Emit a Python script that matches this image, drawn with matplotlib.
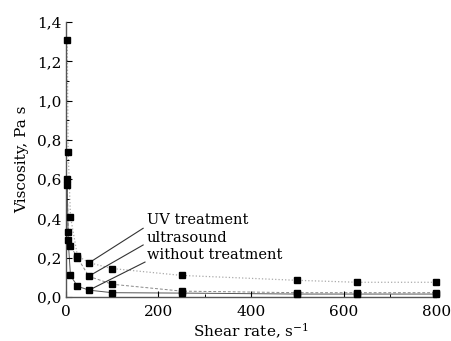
#!/usr/bin/env python3
"""Viscosity vs shear rate for three treatments."""

import matplotlib
matplotlib.use("Agg")
import matplotlib.pyplot as plt
import matplotlib.ticker as ticker

# shear rate, s^-1
shear = [3, 5, 10, 25, 50, 100, 250, 500, 630, 800]

visc_uv = [1.31, 0.74, 0.41, 0.21, 0.175, 0.145, 0.11, 0.085, 0.075, 0.075]
visc_us = [0.60, 0.33, 0.26, 0.20, 0.105, 0.065, 0.03, 0.022, 0.022, 0.022]
visc_none = [0.57, 0.29, 0.11, 0.055, 0.035, 0.022, 0.02, 0.015, 0.015, 0.015]

labels = ["UV treatment", "ultrasound", "without treatment"]
label_y = [0.392, 0.30, 0.214]
leader_start = [(52, 0.177), (51, 0.108), (51, 0.036)]
leader_end = [(167, 0.35), (167, 0.265), (171, 0.178)]

plt.rcParams["font.family"] = ["DejaVu Serif"]
plt.rcParams["mathtext.fontset"] = "dejavuserif"

fig = plt.figure(figsize=(4.51, 3.41), dpi=100)
ax = fig.add_axes([0.146, 0.129, 0.821, 0.806])

ax.plot(shear, visc_uv, color="#aaaaaa", linestyle=":", linewidth=0.9, zorder=1)
ax.plot(shear, visc_us, color="#888888", linestyle="--", linewidth=0.7,
        dashes=(3, 2), zorder=1)
ax.plot(shear, visc_none, color="#555555", linestyle="-", linewidth=0.7, zorder=1)
for ys in (visc_uv, visc_us, visc_none):
    ax.plot(shear, ys, linestyle="none", marker="s", markersize=4.2,
            color="black", clip_on=False, zorder=3)

for lab, ly, (sx, sy), (ex, ey) in zip(labels, label_y, leader_start, leader_end):
    ax.plot([sx, ex], [sy, ey], color="#333333", linewidth=0.8, zorder=2)
    ax.text(175, ly, lab, fontsize=10.5, va="center", ha="left")

ax.set_xlim(0, 800)
ax.set_ylim(0, 1.4)
ax.xaxis.set_major_locator(ticker.MultipleLocator(200))
ax.xaxis.set_minor_locator(ticker.MultipleLocator(100))
ax.yaxis.set_major_locator(ticker.MultipleLocator(0.2))
ax.yaxis.set_minor_locator(ticker.MultipleLocator(0.1))
ax.yaxis.set_major_formatter(ticker.FuncFormatter(
    lambda v, _: f"{v:.1f}".replace(".", ",")))
ax.tick_params(direction="in", labelsize=11, width=0.8, length=4, pad=3)
ax.tick_params(axis="x", pad=6)
ax.tick_params(which="minor", direction="in", length=2.5, width=0.7)
for side in ("top", "right"):
    ax.spines[side].set_visible(False)
for side in ("left", "bottom"):
    ax.spines[side].set_color("#555555")
    ax.spines[side].set_linewidth(1.0)

ax.set_xlabel(r"Shear rate, s$^{-1}$", fontsize=11, labelpad=2)
ax.set_ylabel("Viscosity, Pa s", fontsize=11, labelpad=6)

fig.savefig("out.png", dpi=100)
